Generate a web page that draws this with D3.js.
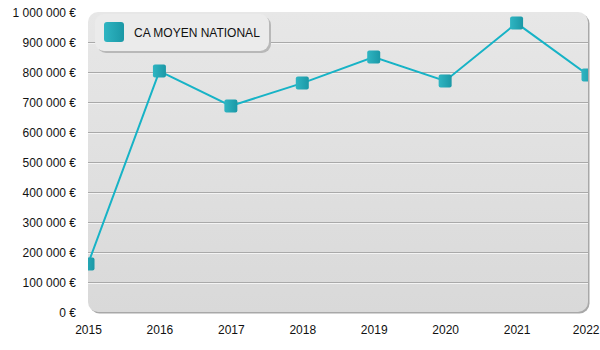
<!DOCTYPE html>
<html>
<head>
<meta charset="utf-8">
<script src="https://cdn.jsdelivr.net/npm/d3@7"></script>
<style>
  html, body { margin: 0; padding: 0; background: #fff; }
  svg { display: block; font-family: "Liberation Sans", Arial, sans-serif; }
</style>
</head>
<body>
<svg id="chart" width="600" height="350"></svg>
<script>
// Average national turnover per year
const years = ["2015", "2016", "2017", "2018", "2019", "2020", "2021", "2022"];
const caMoyen = [160000, 803000, 687000, 763000, 850000, 770000, 963000, 790000];
const yTicks = [0, 100000, 200000, 300000, 400000, 500000, 600000, 700000, 800000, 900000, 1000000];
const seriesName = "CA MOYEN NATIONAL";

const W = 600, H = 350;
const plot = { left: 88, right: 588, top: 12, bottom: 312 };

const svg = d3.select("#chart");
const defs = svg.append("defs");

const bg = defs.append("linearGradient").attr("id", "panelBg")
  .attr("x1", 0).attr("y1", 0).attr("x2", 0).attr("y2", 1);
bg.append("stop").attr("offset", "0%").attr("stop-color", "#e7e7e7");
bg.append("stop").attr("offset", "100%").attr("stop-color", "#d9d9d9");

const mk = defs.append("linearGradient").attr("id", "markerFill")
  .attr("x1", 0).attr("y1", 0).attr("x2", 1).attr("y2", 0);
mk.append("stop").attr("offset", "0%").attr("stop-color", "#2fb5c2");
mk.append("stop").attr("offset", "100%").attr("stop-color", "#1b98a6");

defs.append("clipPath").attr("id", "plotClip")
  .append("rect")
  .attr("x", plot.left).attr("y", plot.top)
  .attr("width", plot.right - plot.left).attr("height", plot.bottom - plot.top)
  .attr("rx", 10).attr("ry", 10);

const x = d3.scalePoint().domain(years).range([plot.left, plot.right]);
const y = d3.scaleLinear().domain([0, 1000000]).range([plot.bottom, plot.top]);

// panel with a soft shadow edge on the right and bottom
svg.append("rect")
  .attr("x", plot.left + 1.5).attr("y", plot.top + 1.5)
  .attr("width", plot.right - plot.left).attr("height", plot.bottom - plot.top)
  .attr("rx", 10).attr("fill", "#a8a8a8");
svg.append("rect")
  .attr("x", plot.left).attr("y", plot.top)
  .attr("width", plot.right - plot.left).attr("height", plot.bottom - plot.top)
  .attr("rx", 10).attr("fill", "url(#panelBg)");

const g = svg.append("g").attr("clip-path", "url(#plotClip)");

// gridlines (embossed: dark line with a light line beneath)
const gridVals = yTicks.filter(v => v > 0 && v < 1000000);
g.selectAll("line.gl").data(gridVals).join("line")
  .attr("x1", plot.left).attr("x2", plot.right)
  .attr("y1", d => Math.round(y(d)) + 0.5).attr("y2", d => Math.round(y(d)) + 0.5)
  .attr("stroke", "#a9a9a9").attr("stroke-width", 1);
g.selectAll("line.gw").data(gridVals).join("line")
  .attr("x1", plot.left).attr("x2", plot.right)
  .attr("y1", d => Math.round(y(d)) + 1.5).attr("y2", d => Math.round(y(d)) + 1.5)
  .attr("stroke", "#f4f4f4").attr("stroke-width", 1);

// y axis labels
const fmt = v => d3.format(",")(v).replace(/,/g, " ") + " €";
const yAxis = d3.axisLeft(y).tickValues(yTicks).tickFormat(fmt).tickSize(0).tickPadding(12);
const ya = svg.append("g").attr("transform", `translate(${plot.left},1)`).call(yAxis);
ya.select(".domain").remove();
ya.selectAll("text").attr("font-size", 12).attr("fill", "#111")
  .attr("font-family", "Liberation Sans, Arial, sans-serif");

// x axis labels
const xAxis = d3.axisBottom(x).tickSize(0).tickPadding(13);
const xa = svg.append("g").attr("transform", `translate(0,${plot.bottom})`).call(xAxis);
xa.select(".domain").remove();
xa.selectAll("text").attr("font-size", 12).attr("fill", "#111")
  .attr("font-family", "Liberation Sans, Arial, sans-serif");
// keep the last year label inside the canvas
xa.selectAll(".tick").filter(d => d === years[years.length - 1])
  .select("text").attr("text-anchor", "end").attr("dx", W - 1 - plot.right);

// series line
const pts = years.map((yr, i) => ({ yr, v: caMoyen[i] }));
g.append("path").datum(pts)
  .attr("fill", "none").attr("stroke", "#17b3c6").attr("stroke-width", 2)
  .attr("d", d3.line().x(d => x(d.yr)).y(d => y(d.v)));

// markers
const ms = 13;
g.selectAll("rect.mk").data(pts).join("rect")
  .attr("x", d => x(d.yr) - ms / 2).attr("y", d => y(d.v) - ms / 2)
  .attr("width", ms).attr("height", ms).attr("rx", 2)
  .attr("fill", "url(#markerFill)");

// legend box
const lg = svg.append("g");
lg.append("rect").attr("x", 97).attr("y", 16).attr("width", 174).attr("height", 37)
  .attr("rx", 9).attr("fill", "#b8b8b8");
lg.append("rect").attr("x", 95).attr("y", 14).attr("width", 174).attr("height", 37)
  .attr("rx", 9).attr("fill", "#ebebeb");
lg.append("rect").attr("x", 104).attr("y", 22).attr("width", 20).attr("height", 20)
  .attr("rx", 3).attr("fill", "url(#markerFill)");
lg.append("text").attr("x", 134).attr("y", 37).attr("font-size", 12).attr("fill", "#111")
  .text(seriesName);
</script>
</body>
</html>
